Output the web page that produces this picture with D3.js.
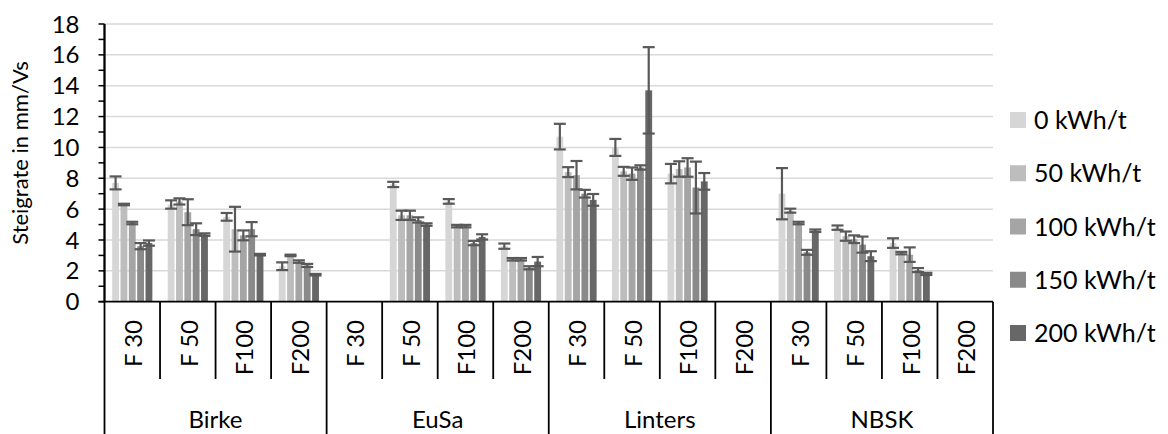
<!DOCTYPE html>
<html>
<head>
<meta charset="utf-8">
<script src="https://cdn.jsdelivr.net/npm/d3@7"></script>
<style>
  html, body { margin: 0; padding: 0; background: #fff; }
  svg { display: block; font-family: Lato, "Open Sans", sans-serif; }
</style>
</head>
<body>
<svg id="chart" width="1168" height="434"></svg>
<script>
// Pulp types and freeness classes on the two-level category axis
const groups = ["Birke", "EuSa", "Linters", "NBSK"];
const feeds = ["F 30", "F 50", "F100", "F200"];
// Refining energy series
const series = ["0 kWh/t", "50 kWh/t", "100 kWh/t", "150 kWh/t", "200 kWh/t"];
const yTicks = [0, 2, 4, 6, 8, 10, 12, 14, 16, 18];

// Mean rise rate per series, 16 categories (group x feed); null = not measured
const rate0   = [7.7, 6.3, 5.5, 2.3,   null, 7.6, 6.5, 3.6,   10.7, 10.0, 8.3, null,   7.0, 4.8, 3.8, null];
const rate50  = [6.3, 6.5, 4.7, 3.0,   null, 5.6, 4.9, 2.75,  8.4, 8.45, 8.6, null,   5.9, 4.25, 3.15, null];
const rate100 = [5.1, 5.8, 4.3, 2.6,   null, 5.6, 4.9, 2.75,  8.2, 8.3, 8.7, null,    5.1, 4.05, 3.05, null];
const rate150 = [3.6, 4.7, 4.7, 2.35,  null, 5.3, 3.8, 2.2,   7.0, 8.7, 7.4, null,    3.2, 3.7, 2.05, null];
const rate200 = [3.8, 4.35, 3.05, 1.75, null, 5.0, 4.2, 2.6,  6.6, 13.7, 7.8, null,   4.6, 2.95, 1.8, null];

// Standard deviations (symmetric error bars)
const err0   = [0.42, 0.27, 0.25, 0.25, null, 0.17, 0.15, 0.17, 0.83, 0.55, 0.63, null, 1.66, 0.14, 0.31, null];
const err50  = [0.05, 0.2, 1.45, 0.05,  null, 0.3, 0.08, 0.08,  0.32, 0.29, 0.5, null,  0.13, 0.3, 0.08, null];
const err100 = [0.08, 0.84, 0.32, 0.08, null, 0.3, 0.08, 0.08,  0.92, 0.4, 0.6, null,   0.08, 0.25, 0.47, null];
const err150 = [0.2, 0.38, 0.46, 0.1,   null, 0.17, 0.14, 0.1,  0.25, 0.14, 1.68, null, 0.16, 0.52, 0.13, null];
const err200 = [0.17, 0.08, 0.05, 0.05, null, 0.08, 0.17, 0.3,  0.38, 2.8, 0.54, null,  0.08, 0.32, 0.07, null];

const rates = [rate0, rate50, rate100, rate150, rate200];
const errs = [err0, err50, err100, err150, err200];
const colors = ["#d6d6d6", "#bdbdbd", "#a5a5a5", "#8a8a8a", "#676767"];

const svg = d3.select("#chart");
const plot = { left: 104.5, right: 993, top: 24, bottom: 301.7 };

const y = d3.scaleLinear().domain([0, 18]).range([plot.bottom, plot.top]);
const xGroup = d3.scaleBand().domain(groups).range([plot.left, plot.right]);
const xFeed = d3.scaleBand().domain(feeds).range([0, xGroup.bandwidth()]);
const xSeries = d3.scaleBand().domain(series).range([0, xFeed.bandwidth()])
  .paddingInner(0.18).paddingOuter(0.92);

const ink = "#595959";

// Horizontal gridlines
svg.append("g")
  .selectAll("line")
  .data(yTicks.filter(t => t > 0))
  .join("line")
  .attr("x1", plot.left).attr("x2", plot.right)
  .attr("y1", d => y(d)).attr("y2", d => y(d))
  .attr("stroke", "#d9d9d9").attr("stroke-width", 1.5);

// Build flat records
const records = [];
groups.forEach((g, gi) => feeds.forEach((f, fi) => {
  const idx = gi * feeds.length + fi;
  series.forEach((s, si) => {
    const v = rates[si][idx];
    if (v == null) return;
    records.push({ g, f, s, si, v, e: errs[si][idx] });
  });
}));
const xPos = d => xGroup(d.g) + xFeed(d.f) + xSeries(d.s);

// Bars
svg.append("g")
  .selectAll("rect")
  .data(records)
  .join("rect")
  .attr("x", xPos)
  .attr("width", xSeries.bandwidth())
  .attr("y", d => y(d.v))
  .attr("height", d => y(0) - y(d.v))
  .attr("fill", d => colors[d.si]);

// Error bars
const eb = svg.append("g").attr("stroke", ink).attr("stroke-width", 2.2).attr("fill", "none");
const capHalf = 6;
records.forEach(d => {
  const cx = xPos(d) + xSeries.bandwidth() / 2;
  const hi = y(d.v + d.e), lo = y(d.v - d.e);
  eb.append("line").attr("x1", cx).attr("x2", cx).attr("y1", hi).attr("y2", lo);
  eb.append("line").attr("x1", cx - capHalf).attr("x2", cx + capHalf).attr("y1", hi).attr("y2", hi);
  eb.append("line").attr("x1", cx - capHalf).attr("x2", cx + capHalf).attr("y1", lo).attr("y2", lo);
});

// Y axis with major ticks (labelled) and minor ticks
const yAxis = svg.append("g").attr("transform", `translate(${plot.left},0)`);
yAxis.append("line").attr("x1", 0).attr("x2", 0)
  .attr("y1", plot.top).attr("y2", plot.bottom).attr("stroke", "#000").attr("stroke-width", 1.8);
yAxis.selectAll("line.tick")
  .data(d3.range(0, 19))
  .join("line").attr("class", "tick")
  .attr("x1", -6).attr("x2", 0)
  .attr("y1", d => y(d)).attr("y2", d => y(d))
  .attr("stroke", "#000").attr("stroke-width", 1.5);
yAxis.selectAll("text")
  .data(yTicks)
  .join("text")
  .attr("x", -25).attr("y", d => y(d)).attr("dy", "0.36em")
  .attr("text-anchor", "end")
  .attr("font-size", 24).attr("fill", "#000")
  .text(d => d);

// Y axis title
svg.append("text")
  .attr("transform", `translate(28,153) rotate(-90)`)
  .attr("text-anchor", "middle")
  .attr("font-size", 22).attr("fill", "#000")
  .text("Steigrate in mm/Vs");

// X axis baseline
svg.append("line")
  .attr("x1", plot.left - 6).attr("x2", plot.right)
  .attr("y1", plot.bottom).attr("y2", plot.bottom)
  .attr("stroke", "#000").attr("stroke-width", 1.8);

// Category separators: short ones between feeds, long ones between groups
const xAxis = svg.append("g").attr("stroke", "#000").attr("stroke-width", 1.8);
groups.forEach(g => {
  feeds.forEach((f, fi) => {
    if (fi === 0) return;
    const x = xGroup(g) + xFeed(f);
    xAxis.append("line").attr("x1", x).attr("x2", x).attr("y1", plot.bottom).attr("y2", 379);
  });
});
[...groups.map(g => xGroup(g)), plot.right].forEach(x => {
  xAxis.append("line").attr("x1", x).attr("x2", x)
    .attr("y1", x === plot.left ? plot.top : plot.bottom).attr("y2", 434);
});

// Feed labels (rotated)
groups.forEach(g => {
  feeds.forEach(f => {
    const cx = xGroup(g) + xFeed(f) + xFeed.bandwidth() / 2 + 1.5;
    svg.append("text")
      .attr("transform", `translate(${cx},320) rotate(-90)`)
      .attr("dy", "0.35em")
      .attr("text-anchor", "end")
      .attr("font-size", 24).attr("fill", "#000")
      .text(f);
  });
  svg.append("text")
    .attr("x", xGroup(g) + xGroup.bandwidth() / 2)
    .attr("y", 428)
    .attr("text-anchor", "middle")
    .attr("font-size", 24).attr("fill", "#000")
    .text(g);
});

// Legend
const legend = svg.append("g");
const legendY = d3.scalePoint().domain(series).range([120, 333]);
series.forEach((s, i) => {
  const cy = legendY(s);
  legend.append("rect").attr("x", 1010).attr("y", cy - 8).attr("width", 16).attr("height", 16)
    .attr("fill", colors[i]);
  legend.append("text").attr("x", 1034).attr("y", cy).attr("dy", "0.36em")
    .attr("font-size", 25).attr("fill", "#000").text(s);
});
</script>
</body>
</html>
